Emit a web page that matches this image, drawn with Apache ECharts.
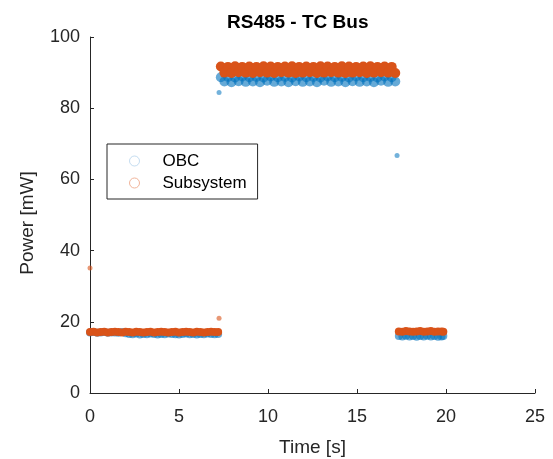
<!DOCTYPE html>
<html>
<head>
<meta charset="utf-8">
<script src="https://cdn.jsdelivr.net/npm/echarts@6/dist/echarts.min.js"></script>
<style>
  html, body { margin: 0; padding: 0; background: #fff; }
  #main { width: 553px; height: 459px; }
</style>
</head>
<body>
<div id="main"></div>
<script>
// sample times [s] of each operating phase
var lowATimes = [0, 0.2, 0.4, 0.6, 0.8, 1.0, 1.2, 1.4, 1.6, 1.8,
  2.0, 2.2, 2.4, 2.6, 2.8, 3.0, 3.2, 3.4, 3.6, 3.8,
  4.0, 4.2, 4.4, 4.6, 4.8, 5.0, 5.2, 5.4, 5.6, 5.8,
  6.0, 6.2, 6.4, 6.6, 6.8, 7.0, 7.2];
var highTimes = [7.35, 7.55, 7.75, 7.95, 8.15, 8.35, 8.55, 8.75, 8.95, 9.15,
  9.35, 9.55, 9.75, 9.95, 10.15, 10.35, 10.55, 10.75, 10.95, 11.15,
  11.35, 11.55, 11.75, 11.95, 12.15, 12.35, 12.55, 12.75, 12.95, 13.15,
  13.35, 13.55, 13.75, 13.95, 14.15, 14.35, 14.55, 14.75, 14.95, 15.15,
  15.35, 15.55, 15.75, 15.95, 16.15, 16.35, 16.55, 16.75, 16.95, 17.15];
var lowBTimes = [17.35, 17.55, 17.75, 17.95, 18.15, 18.35, 18.55, 18.75, 18.95, 19.15,
  19.35, 19.55, 19.75, 19.85];

// OBC power [mW]
var obcLowA = [17.0, 17.1, 16.9, 17.0, 17.1, 16.9, 17.0, 17.0, 16.9, 17.1,
  16.8, 16.6, 16.5, 16.7, 16.4, 16.6, 16.5, 16.7, 16.6, 16.4,
  16.6, 16.5, 16.7, 16.6, 16.5, 16.4, 16.6, 16.7, 16.5, 16.6,
  16.4, 16.6, 16.5, 16.7, 16.6, 16.5, 16.6];
var obcHigh = [88.7, 87.5, 88.8, 87.3, 88.6, 87.6, 88.9, 87.4, 88.7, 87.5,
  88.8, 87.3, 88.6, 87.7, 88.9, 87.4, 88.7, 87.5, 88.8, 87.3,
  88.6, 87.6, 88.9, 87.4, 88.7, 87.5, 88.8, 87.3, 88.6, 87.7,
  88.9, 87.4, 88.7, 87.5, 88.8, 87.3, 88.6, 87.6, 88.9, 87.4,
  88.7, 87.5, 88.8, 87.3, 88.6, 87.7, 88.9, 87.4, 88.7, 87.5];
var obcLowB = [16.0, 15.9, 16.1, 15.9, 16.0, 15.8, 16.0, 15.9, 16.1, 15.9,
  16.0, 15.8, 15.9, 16.0];
var obcSpikeTimes = [7.25, 17.25];
var obcSpikes = [84.4, 66.7];

// Subsystem power [mW]
var subLowA = [17.1, 17.2, 17.0, 17.1, 17.2, 17.0, 17.1, 17.2, 17.1, 17.0,
  17.2, 17.1, 17.0, 17.2, 17.1, 17.0, 17.1, 17.2, 17.0, 17.1,
  17.2, 17.1, 17.0, 17.1, 17.2, 17.0, 17.1, 17.2, 17.1, 17.0,
  17.2, 17.1, 17.0, 17.1, 17.2, 17.1, 17.1];
var subHigh = [91.7, 90.0, 91.6, 89.9, 91.8, 90.1, 91.6, 90.0, 91.7, 89.9,
  91.6, 90.1, 91.8, 90.0, 91.7, 89.9, 91.6, 90.1, 91.7, 90.0,
  91.8, 89.9, 91.6, 90.0, 91.7, 90.1, 91.6, 89.9, 91.8, 90.0,
  91.7, 90.1, 91.6, 90.0, 91.8, 89.9, 91.7, 90.0, 91.6, 90.1,
  91.7, 89.9, 91.8, 90.0, 91.6, 90.1, 91.7, 90.0, 91.6, 89.9];
var subLowB = [17.3, 17.2, 17.4, 17.3, 17.2, 17.3, 17.4, 17.2, 17.3, 17.4,
  17.2, 17.3, 17.3, 17.2];
var subSpikeTimes = [0, 7.25];
var subSpikes = [35.1, 21.0];

var xTicks = [0, 5, 10, 15, 20, 25];
var yTicks = [0, 20, 40, 60, 80, 100];

function pairs(times, vals) {
  return times.map(function (t, i) { return [t, vals[i]]; });
}

var obcData = pairs(lowATimes, obcLowA).concat(pairs(highTimes, obcHigh), pairs(lowBTimes, obcLowB));
var subData = pairs(lowATimes, subLowA).concat(pairs(highTimes, subHigh), pairs(lowBTimes, subLowB));

var font = 'Liberation Sans, Arial, sans-serif';
var ink = '#262626';
var bandSize = function (v) { return v[1] > 50 ? 10 : 8; };

var myChart = echarts.init(document.getElementById('main'));
myChart.setOption({
  animation: false,
  textStyle: { fontFamily: font },
  title: {
    text: 'RS485 - TC Bus',
    left: 222, top: 8,
    textStyle: { fontFamily: font, fontSize: 19, fontWeight: 'bold', color: '#000' }
  },
  grid: { left: 90, right: 18, top: 37, bottom: 66, outerBoundsMode: 'none', containLabel: false },
  legend: {
    left: 107, top: 144,
    orient: 'vertical',
    selectedMode: false,
    backgroundColor: '#fff',
    borderColor: ink, borderWidth: 1, borderRadius: 0,
    padding: [8, 11, 7, 22],
    itemWidth: 46, itemHeight: 10, itemGap: 4,
    textStyle: { fontFamily: font, fontSize: 17, lineHeight: 18, color: '#000' },
    data: [
      { name: 'OBC', icon: 'circle', itemStyle: { color: 'rgba(0,0,0,0)', borderColor: '#9fc7e6', borderWidth: 1 } },
      { name: 'Subsystem', icon: 'circle', itemStyle: { color: 'rgba(0,0,0,0)', borderColor: '#f1b49a', borderWidth: 1 } }
    ]
  },
  xAxis: {
    type: 'value', min: xTicks[0], max: xTicks[xTicks.length - 1], interval: 5,
    name: 'Time [s]', nameLocation: 'middle', nameGap: 45,
    nameTextStyle: { fontFamily: font, fontSize: 19, color: ink },
    axisLine: { show: true, onZero: false, lineStyle: { color: ink, width: 1 } },
    axisTick: { show: true, inside: true, length: 4, lineStyle: { color: ink } },
    axisLabel: { margin: 15, fontFamily: font, fontSize: 18, color: ink },
    splitLine: { show: false }
  },
  yAxis: {
    type: 'value', min: yTicks[0], max: yTicks[yTicks.length - 1], interval: 20,
    name: 'Power [mW]', nameLocation: 'middle', nameGap: 53,
    nameTextStyle: { fontFamily: font, fontSize: 19, color: ink, padding: [0, 16, 0, 0] },
    axisLine: { show: true, onZero: false, lineStyle: { color: ink, width: 1 } },
    axisTick: { show: true, inside: true, length: 4, lineStyle: { color: ink } },
    axisLabel: { margin: 10, fontFamily: font, fontSize: 18, color: ink },
    splitLine: { show: false }
  },
  series: [
    {
      name: 'OBC', type: 'scatter', data: obcData,
      symbolSize: bandSize,
      itemStyle: { color: '#0072BD', opacity: 0.6 }
    },
    {
      name: 'OBC', type: 'scatter', data: pairs(obcSpikeTimes, obcSpikes),
      symbolSize: 5,
      itemStyle: { color: '#0072BD', opacity: 0.55 }
    },
    {
      name: 'Subsystem', type: 'scatter', data: subData,
      symbolSize: bandSize,
      itemStyle: { color: '#D95319', opacity: 1 }
    },
    {
      name: 'Subsystem', type: 'scatter', data: pairs(subSpikeTimes, subSpikes),
      symbolSize: 5,
      itemStyle: { color: '#D95319', opacity: 0.6 }
    }
  ]
});
</script>
</body>
</html>
